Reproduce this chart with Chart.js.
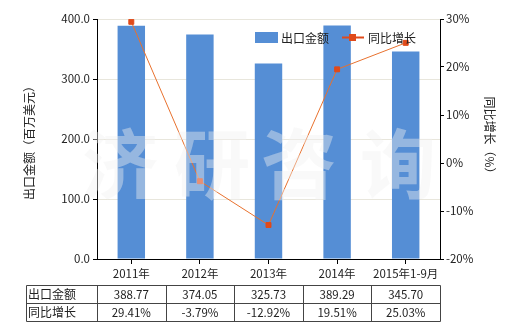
<!DOCTYPE html>
<html><head><meta charset="utf-8">
<script src="https://cdn.jsdelivr.net/npm/chart.js@4.4.0/dist/chart.umd.min.js"></script>
<style>html,body{margin:0;padding:0;background:#fff}#wrap{width:520px;height:330px;position:relative}</style>
</head><body><div id="wrap"><canvas id="c" width="520" height="330"></canvas></div>
<script>
const categories = ['2011年','2012年','2013年','2014年','2015年1-9月'];
const exportValues = [388.77, 374.05, 325.73, 389.29, 345.70];
const growthValues = [29.41, -3.79, -12.92, 19.51, 25.03];
const exportLabels = ['388.77','374.05','325.73','389.29','345.70'];
const growthLabels = ['29.41%','-3.79%','-12.92%','19.51%','25.03%'];
const seriesNames = ['出口金额','同比增长'];
const leftTitle = '出口金额（百万美元）';
const rightTitle = '同比增长（%）';
const watermark = ['济','研','咨','询'];

const FONT = '"Noto Sans CJK SC", "DejaVu Sans", sans-serif';
const BAR = '#558ED5', LINE = '#E8712E', MARK = '#E04A1A';

const extra = {
  id: 'extra',
  afterDraw(chart) {
    const ctx = chart.ctx, a = chart.chartArea, x = chart.scales.x;
    ctx.save();
    // watermark (on top)
    ctx.font = 'bold 76px ' + FONT;
    ctx.fillStyle = 'rgba(240,240,240,0.42)';
    ctx.textAlign = 'center'; ctx.textBaseline = 'middle';
    const wx = [120, 212, 299, 398];
    watermark.forEach((w, i) => ctx.fillText(w, wx[i], 164));
    // axis titles
    ctx.fillStyle = '#222';
    ctx.font = '12px ' + FONT;
    ctx.textAlign = 'center'; ctx.textBaseline = 'middle';
    ctx.save(); ctx.translate(29, 140); ctx.rotate(-Math.PI/2); ctx.fillText(leftTitle, 0, 0); ctx.restore();
    ctx.save(); ctx.translate(490, 138); ctx.rotate(Math.PI/2); ctx.fillText(rightTitle, 0, 0); ctx.restore();
    // legend
    ctx.font = '12px ' + FONT;
    ctx.textAlign = 'left';
    ctx.fillStyle = BAR; ctx.fillRect(255, 32, 23, 11);
    ctx.fillStyle = '#222'; ctx.fillText(seriesNames[0], 281, 38);
    ctx.strokeStyle = MARK; ctx.lineWidth = 2;
    ctx.beginPath(); ctx.moveTo(342, 37.5); ctx.lineTo(364, 37.5); ctx.stroke();
    ctx.fillStyle = MARK; ctx.fillRect(349, 34, 7, 7);
    ctx.fillStyle = '#222'; ctx.fillText(seriesNames[1], 368, 38);
    // table
    const n = categories.length;
    const bounds = [];
    for (let i = 0; i <= n; i++) {
      if (i === 0) bounds.push(a.left);
      else if (i === n) bounds.push(a.right);
      else bounds.push((x.getPixelForValue(i-1) + x.getPixelForValue(i)) / 2);
    }
    const tl = 26.5, rows = [285.5, 303.5, 321.5];
    ctx.strokeStyle = '#444'; ctx.lineWidth = 1;
    ctx.beginPath();
    rows.forEach(y => { ctx.moveTo(tl, y); ctx.lineTo(Math.round(a.right)+0.5, y); });
    ctx.moveTo(tl, rows[0]); ctx.lineTo(tl, rows[2]);
    bounds.forEach(b => { const bx = Math.round(b)+0.5; ctx.moveTo(bx, rows[0]); ctx.lineTo(bx, rows[2]); });
    ctx.stroke();
    ctx.fillStyle = '#222';
    ctx.font = '12px ' + FONT;
    ctx.textAlign = 'left';
    ctx.fillText(seriesNames[0], 28, 294.5);
    ctx.fillText(seriesNames[1], 28, 312.5);
    ctx.font = '11.5px ' + FONT;
    ctx.textAlign = 'center';
    for (let i = 0; i < n; i++) {
      const cx = x.getPixelForValue(i);
      ctx.fillText(exportLabels[i], cx, 295);
      ctx.fillText(growthLabels[i], cx, 313);
    }
    ctx.restore();
  }
};

new Chart(document.getElementById('c'), {
  data: {
    labels: categories,
    datasets: [
      { type: 'line', label: seriesNames[1], data: growthValues, yAxisID: 'y2',
        borderColor: LINE, borderWidth: 1, pointStyle: 'rect', pointRadius: 3.5,
        pointBackgroundColor: MARK, pointBorderColor: MARK, tension: 0, order: 0 },
      { type: 'bar', label: seriesNames[0], data: exportValues, yAxisID: 'y',
        backgroundColor: BAR, categoryPercentage: 1, barPercentage: 0.4, order: 1 }
    ]
  },
  options: {
    responsive: false, animation: false, devicePixelRatio: 1,
    layout: { padding: { top: 19, left: 0, right: 0, bottom: 0 } },
    plugins: { legend: { display: false }, tooltip: { enabled: false } },
    scales: {
      x: {
        offset: true,
        grid: { display: true, drawOnChartArea: false, offset: false, color: '#000', tickLength: 5, tickColor: '#000' },
        border: { color: '#000', width: 1 },
        ticks: { color: '#222', font: { family: FONT, size: 11.5 }, padding: 3, maxRotation: 0, autoSkip: false },
        afterFit(s) { s.height = 71; }
      },
      y: {
        position: 'left', min: 0, max: 400,
        ticks: { stepSize: 100, color: '#222', font: { family: FONT, size: 11.5 }, padding: 3,
          callback: v => v.toFixed(1) },
        grid: { color: '#E8E6DC', tickLength: 4, tickColor: '#000', drawTicks: true },
        border: { color: '#000', width: 1 },
        afterFit(s) { s.width = 97; }
      },
      y2: {
        position: 'right', min: -20, max: 30,
        ticks: { stepSize: 10, color: '#222', font: { family: FONT, size: 11.5 }, padding: 2,
          callback: v => v + '%' },
        grid: { drawOnChartArea: false, tickLength: 4, tickColor: '#000' },
        border: { color: '#000', width: 1 },
        afterFit(s) { s.width = 80; }
      }
    }
  },
  plugins: [extra]
});
</script></body></html>
